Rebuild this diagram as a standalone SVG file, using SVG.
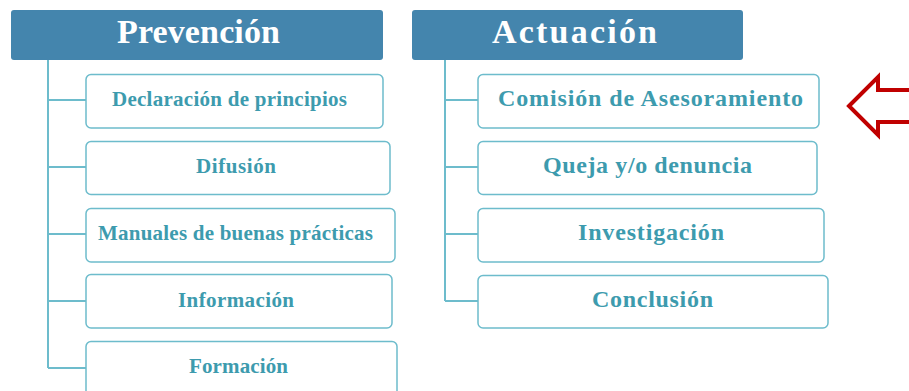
<svg xmlns="http://www.w3.org/2000/svg" width="909" height="391" viewBox="0 0 909 391">
<style>
.hdr{fill:#4485ad;}
.hdrt{fill:#ffffff;font-family:"Liberation Serif",serif;font-weight:bold;font-size:34px;text-anchor:middle;}
.box{fill:#ffffff;stroke:#6dbccc;stroke-width:1.5;}
.bt{fill:#3d9bae;font-family:"Liberation Serif",serif;font-weight:bold;font-size:21px;text-anchor:middle;}
.bt2{fill:#3d9bae;font-family:"Liberation Serif",serif;font-weight:bold;font-size:24px;text-anchor:middle;}
.ln{stroke:#6dbccc;stroke-width:2;fill:none;}
</style>
<rect width="909" height="391" fill="#ffffff"/>
<g id="connectors">
<path class="ln" d="M48 60 V368 M48 100 H86 M48 167 H86 M48 234 H86 M48 301 H86 M48 368 H86"/>
<path class="ln" d="M445 60 V301 M445 100 H478 M445 167 H478 M445 234 H478 M445 301 H478"/>
</g>
<g id="prevencion">
<rect class="hdr" x="11" y="10" width="372" height="50" rx="3"/>
<text class="hdrt" x="198.5" y="43" textLength="163" lengthAdjust="spacing">Prevención</text>
</g>
<g id="declaracion">
<rect class="box" x="86" y="74.5" width="297" height="53.5" rx="5"/>
<text class="bt" x="229.5" y="106" textLength="235" lengthAdjust="spacing">Declaración de principios</text>
</g>
<g id="difusion">
<rect class="box" x="86" y="141.5" width="304" height="53" rx="5"/>
<text class="bt" x="236" y="173" textLength="80" lengthAdjust="spacing">Difusión</text>
</g>
<g id="manuales">
<rect class="box" x="86" y="208.5" width="309" height="53.5" rx="5"/>
<text class="bt" x="235.5" y="240" textLength="275" lengthAdjust="spacing">Manuales de buenas prácticas</text>
</g>
<g id="informacion">
<rect class="box" x="86" y="274.5" width="306" height="53.5" rx="5"/>
<text class="bt" x="236" y="307" textLength="116" lengthAdjust="spacing">Información</text>
</g>
<g id="formacion">
<rect class="box" x="86" y="341.5" width="311" height="60" rx="5"/>
<text class="bt" x="238.5" y="373" textLength="99" lengthAdjust="spacing">Formación</text>
</g>
<g id="actuacion">
<rect class="hdr" x="412" y="10" width="331" height="50" rx="3"/>
<text class="hdrt" x="574.5" y="43" textLength="165" lengthAdjust="spacing">Actuación</text>
</g>
<g id="comision">
<rect class="box" x="478" y="74.5" width="341" height="53.5" rx="5"/>
<text class="bt2" x="650.5" y="106" textLength="305" lengthAdjust="spacing">Comisión de Asesoramiento</text>
</g>
<g id="queja">
<rect class="box" x="478" y="141.5" width="339" height="53" rx="5"/>
<text class="bt2" x="647.5" y="173" textLength="209" lengthAdjust="spacing">Queja y/o denuncia</text>
</g>
<g id="investigacion">
<rect class="box" x="478" y="208.5" width="346" height="53.5" rx="5"/>
<text class="bt2" x="651" y="240" textLength="146" lengthAdjust="spacing">Investigación</text>
</g>
<g id="conclusion">
<rect class="box" x="478" y="275.5" width="350" height="52.5" rx="5"/>
<text class="bt2" x="652.5" y="307" textLength="121" lengthAdjust="spacing">Conclusión</text>
</g>
<g id="arrow">
<path d="M849 106 L878 77 V90 H915 V122 H878 V135 Z" fill="#ffffff" stroke="#c00000" stroke-width="4" stroke-linejoin="miter"/>
</g>
</svg>
